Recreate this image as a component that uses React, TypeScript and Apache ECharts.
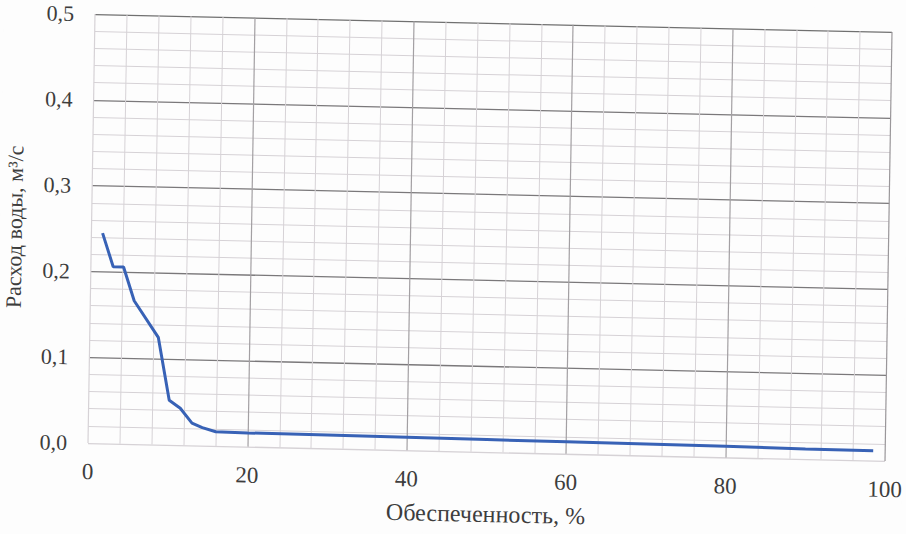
import React, { useEffect, useRef } from "react";
import * as echarts from "echarts";

// Обеспеченность, % (x) and Расход воды, м³/с (y)
const percent = [1.4, 2.8, 4.1, 5.5, 8.6, 10.1, 11.5, 13.0, 14.3, 16.0, 20, 30, 40, 50, 60, 70, 80, 90, 98.5];
const discharge = [0.245, 0.206, 0.206, 0.167, 0.125, 0.052, 0.043, 0.026, 0.021, 0.0165, 0.016, 0.0155, 0.015, 0.0145, 0.014, 0.0135, 0.013, 0.012, 0.0115];

const xTitle = "Обеспеченность, %";
const yTitle = "Расход воды, м³/с";

const FONT = "Liberation Serif";
const TEXT = "#3d3d3d";

export default function App() {
  const ref = useRef<HTMLDivElement>(null);

  useEffect(() => {
    if (!ref.current) return;
    const chart = echarts.init(ref.current, undefined, { renderer: "svg" });
    const minor = "#d6d2d6";
    chart.setOption({
      animation: false,
      backgroundColor: "#fdfdfd",
      grid: { left: 91.5, right: 17.5, top: 23, bottom: 82, containLabel: false, outerBoundsMode: "none" },
      xAxis: {
        type: "value",
        min: 0,
        max: 100,
        interval: 20,
        name: xTitle,
        nameLocation: "middle",
        nameGap: 50,
        nameTextStyle: { fontFamily: FONT, fontSize: 24, color: TEXT },
        axisLine: { show: false },
        axisTick: { show: false },
        axisLabel: { fontFamily: FONT, fontSize: 23, color: TEXT, margin: 17 },
        splitLine: { show: true, lineStyle: { color: [minor, "#a3a0a3", "#a3a0a3", "#a3a0a3", "#a3a0a3", "#9a979a"], width: 1.2 } },
        minorTick: { show: false, splitNumber: 5 },
        minorSplitLine: { show: true, lineStyle: { color: minor, width: 1 } },
      },
      yAxis: {
        type: "value",
        min: 0,
        max: 0.5,
        interval: 0.1,
        name: yTitle,
        nameLocation: "middle",
        nameRotate: 90,
        nameGap: 66,
        nameTextStyle: { fontFamily: FONT, fontSize: 22, color: TEXT },
        axisLine: { show: false },
        axisTick: { show: false },
        axisLabel: {
          fontFamily: FONT,
          fontSize: 22,
          color: TEXT,
          margin: 21,
          formatter: (v: number) => v.toFixed(1).replace(".", ","),
        },
        splitLine: { show: true, lineStyle: { color: [minor, "#7a787a", "#7a787a", "#7a787a", "#7a787a", "#707070"], width: 1.3 } },
        minorTick: { show: false, splitNumber: 5 },
        minorSplitLine: { show: true, lineStyle: { color: minor, width: 1 } },
      },
      series: [
        {
          type: "line",
          data: percent.map((p, i) => [p, discharge[i]]),
          showSymbol: false,
          symbol: "none",
          smooth: false,
          lineStyle: { color: "#3862b6", width: 3 },
          z: 5,
        },
      ],
    });
    return () => chart.dispose();
  }, []);

  return (
    <div
      style={{
        position: "absolute",
        left: 0,
        top: 0,
        width: 906,
        height: 534,
        overflow: "hidden",
        background: "#fdfdfd",
      }}
    >
      <div
        style={{
          width: 906,
          height: 534,
          transformOrigin: "490px 237.5px",
          transform: "matrix(1, 0.0225, -0.0163, 1, 0, 0)",
        }}
      >
        <div ref={ref} style={{ width: 906, height: 534 }} />
      </div>
    </div>
  );
}
